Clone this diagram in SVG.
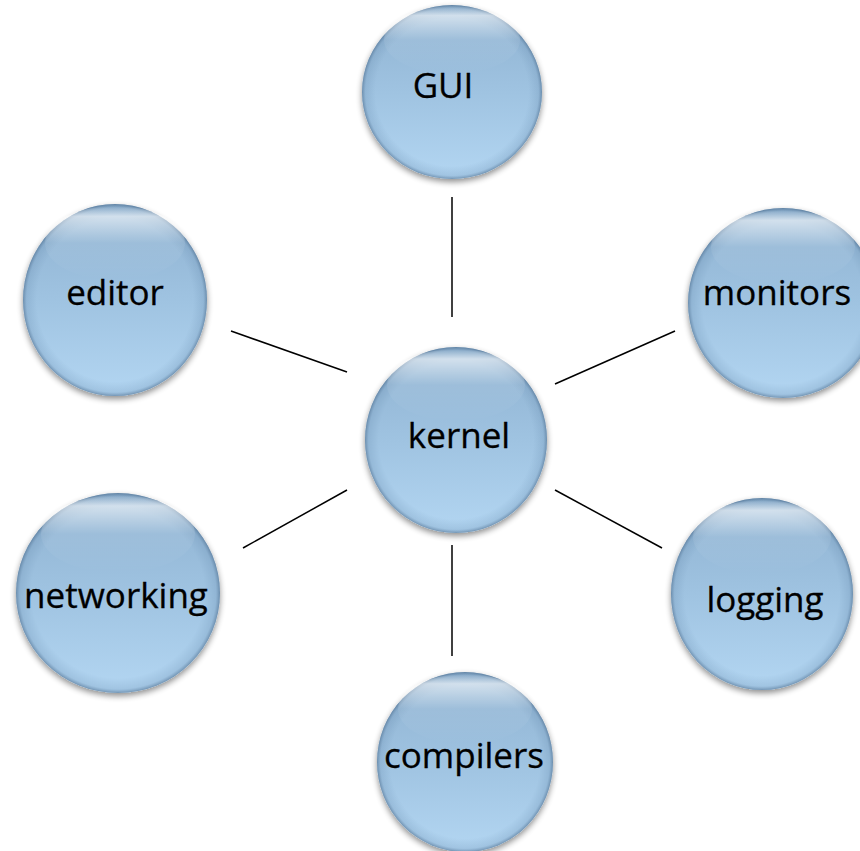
<svg xmlns="http://www.w3.org/2000/svg" width="860" height="851" viewBox="0 0 860 851">
<style>
.lbl{font-family:"Open Sans","Liberation Sans",sans-serif;font-size:35px;fill:#000;text-anchor:middle;stroke:#000;stroke-width:0.3}
.body{fill:url(#bodyG);filter:url(#sh)}
.rim{fill:url(#rimG)}
.hl{fill:url(#hlG)}
.conn line{stroke:#000;stroke-width:1.5}
</style>
<defs>
<linearGradient id="bodyG" x1="0" y1="0" x2="0" y2="1">
<stop offset="0" stop-color="#8eb1d0"/>
<stop offset="0.5" stop-color="#9fc3e1"/>
<stop offset="1" stop-color="#b3d6f2"/>
</linearGradient>
<radialGradient id="rimG" cx="0.5" cy="0.5" r="0.5">
<stop offset="0.85" stop-color="#5a7fa3" stop-opacity="0"/>
<stop offset="0.96" stop-color="#5a7fa3" stop-opacity="0.2"/>
<stop offset="1" stop-color="#3f5f80" stop-opacity="0.55"/>
</radialGradient>
<linearGradient id="hlG" x1="0" y1="0" x2="0" y2="1">
<stop offset="0" stop-color="#fff" stop-opacity="0"/>
<stop offset="0.14" stop-color="#fff" stop-opacity="0.6"/>
<stop offset="0.5" stop-color="#fff" stop-opacity="0.08"/>
<stop offset="1" stop-color="#fff" stop-opacity="0"/>
</linearGradient>
<filter id="sh" x="-20%" y="-20%" width="140%" height="140%">
<feGaussianBlur in="SourceAlpha" stdDeviation="3"/>
<feOffset dy="3" result="b"/>
<feComponentTransfer><feFuncA type="linear" slope="0.45"/></feComponentTransfer>
<feMerge><feMergeNode/><feMergeNode in="SourceGraphic"/></feMerge>
</filter>
</defs>
<rect width="860" height="851" fill="#fff"/>
<g id="connectors" class="conn">
<line x1="452" y1="197" x2="452" y2="317"/>
<line x1="231" y1="331" x2="347" y2="372"/>
<line x1="675" y1="331" x2="555" y2="384"/>
<line x1="243" y1="548" x2="347" y2="490"/>
<line x1="555" y1="490" x2="662" y2="548"/>
<line x1="452" y1="545" x2="452" y2="656"/>
</g>
<g id="node-gui">
<ellipse class="body" cx="452" cy="92" rx="90" ry="87"/>
<ellipse class="rim" cx="452" cy="92" rx="90" ry="87"/>
<ellipse class="hl" cx="452" cy="40" rx="68" ry="34"/>
<text class="lbl" x="443" y="98">GUI</text>
</g>
<g id="node-editor">
<ellipse class="body" cx="115" cy="300" rx="92" ry="96"/>
<ellipse class="rim" cx="115" cy="300" rx="92" ry="96"/>
<ellipse class="hl" cx="115" cy="243" rx="70" ry="37"/>
<text class="lbl" x="115" y="305">editor</text>
</g>
<g id="node-kernel">
<ellipse class="body" cx="456" cy="440" rx="91" ry="93"/>
<ellipse class="rim" cx="456" cy="440" rx="91" ry="93"/>
<ellipse class="hl" cx="456" cy="385" rx="69" ry="36"/>
<text class="lbl" x="459" y="448">kernel</text>
</g>
<g id="node-monitors">
<ellipse class="body" cx="783" cy="303" rx="95" ry="95"/>
<ellipse class="rim" cx="783" cy="303" rx="95" ry="95"/>
<ellipse class="hl" cx="783" cy="247" rx="72" ry="37"/>
<text class="lbl" x="777" y="305">monitors</text>
</g>
<g id="node-networking">
<ellipse class="body" cx="118" cy="593" rx="102" ry="100"/>
<ellipse class="rim" cx="118" cy="593" rx="102" ry="100"/>
<ellipse class="hl" cx="118" cy="534" rx="77" ry="39"/>
<text class="lbl" x="116" y="608">networking</text>
</g>
<g id="node-logging">
<ellipse class="body" cx="762" cy="594" rx="91" ry="96"/>
<ellipse class="rim" cx="762" cy="594" rx="91" ry="96"/>
<ellipse class="hl" cx="762" cy="537" rx="69" ry="37"/>
<text class="lbl" x="765" y="612">logging</text>
</g>
<g id="node-compilers">
<ellipse class="body" cx="465" cy="762" rx="88" ry="90"/>
<ellipse class="rim" cx="465" cy="762" rx="88" ry="90"/>
<ellipse class="hl" cx="465" cy="709" rx="67" ry="35"/>
<text class="lbl" x="464" y="768">compilers</text>
</g>
</svg>
